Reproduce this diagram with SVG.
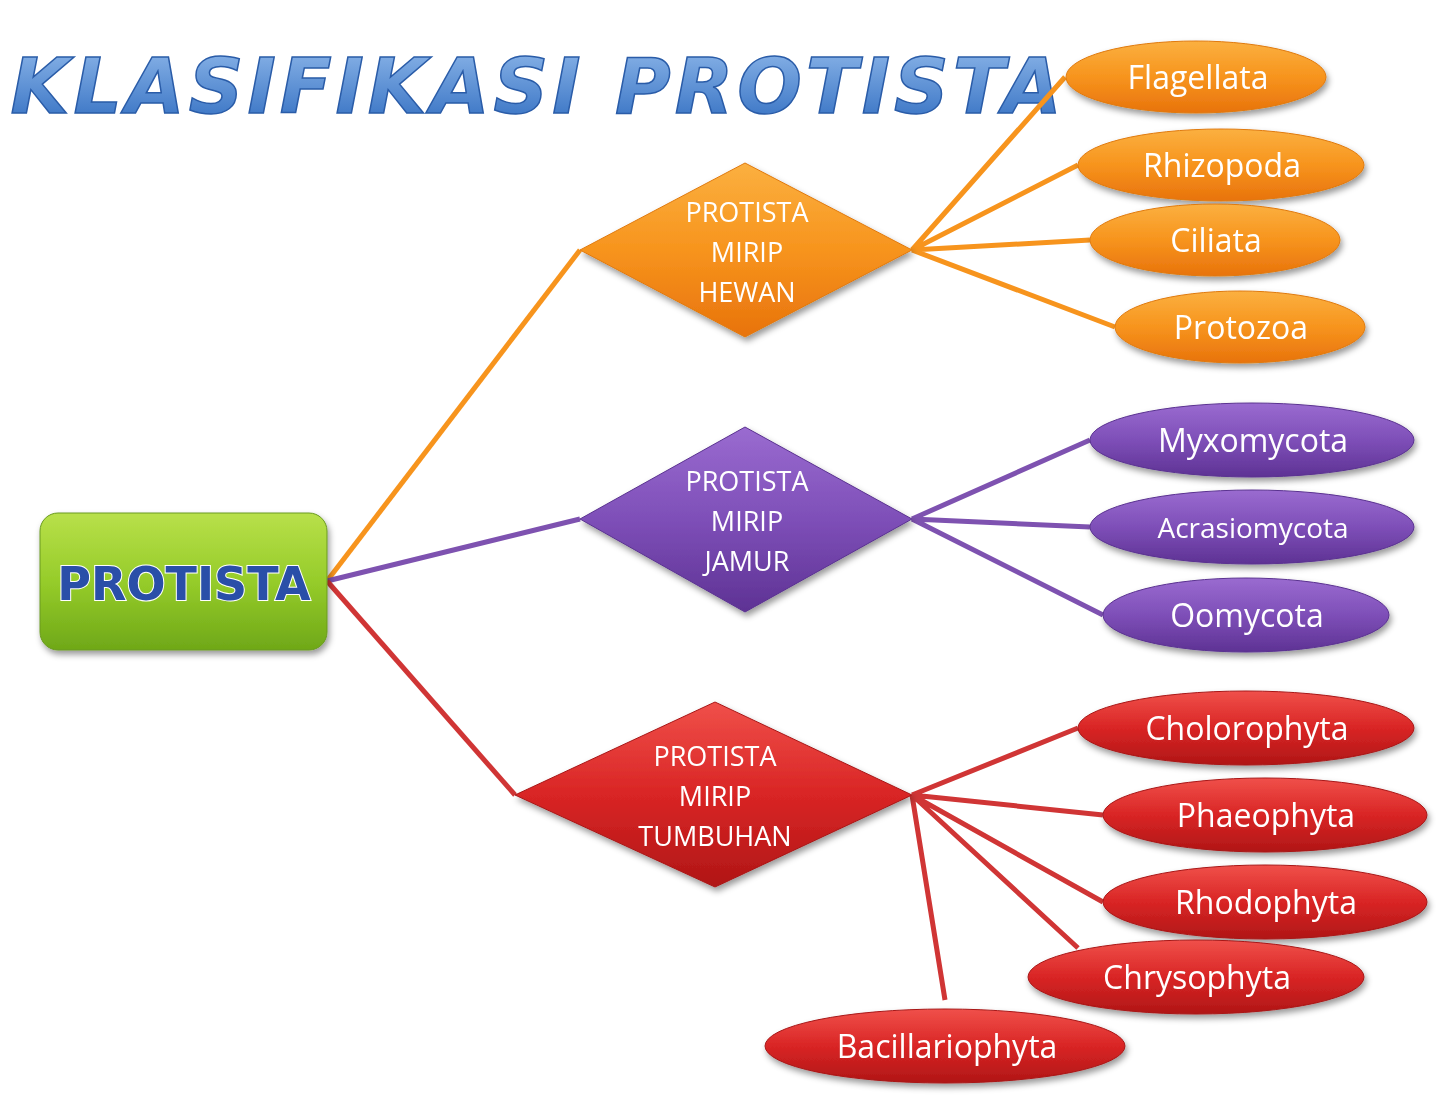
<svg xmlns="http://www.w3.org/2000/svg" width="1437" height="1101" viewBox="0 0 1437 1101">
<defs>
<linearGradient id="go" x1="0" y1="0" x2="0" y2="1"><stop offset="0" stop-color="#fbb040"/><stop offset="0.5" stop-color="#f7941d"/><stop offset="1" stop-color="#e8730c"/></linearGradient>
<linearGradient id="gp" x1="0" y1="0" x2="0" y2="1"><stop offset="0" stop-color="#9a6bd0"/><stop offset="0.5" stop-color="#7e4fb8"/><stop offset="1" stop-color="#5e3294"/></linearGradient>
<linearGradient id="gr" x1="0" y1="0" x2="0" y2="1"><stop offset="0" stop-color="#f0504a"/><stop offset="0.5" stop-color="#d92525"/><stop offset="1" stop-color="#b01616"/></linearGradient>
<linearGradient id="gg" x1="0" y1="0" x2="0" y2="1"><stop offset="0" stop-color="#b8e04a"/><stop offset="0.5" stop-color="#96cc2a"/><stop offset="1" stop-color="#6fa818"/></linearGradient>
<linearGradient id="gt" x1="0" y1="0" x2="0" y2="1"><stop offset="0" stop-color="#8fb8ea"/><stop offset="1" stop-color="#2f6cc0"/></linearGradient>
<filter id="sh" x="-20%" y="-20%" width="140%" height="150%"><feDropShadow dx="2" dy="4" stdDeviation="3" flood-color="#000" flood-opacity="0.4"/></filter>
</defs>
<style>
.t{font-family:"Open Sans","DejaVu Sans",sans-serif;fill:#fff;text-anchor:middle}
.e{font-size:32px}
.d{font-size:27px}
.o{fill:url(#go);stroke:#e07a10;stroke-width:1}
.p{fill:url(#gp);stroke:#5a3290;stroke-width:1}
.r{fill:url(#gr);stroke:#a81818;stroke-width:1}
</style>
<rect width="1437" height="1101" fill="#fff"/>
<text x="538" y="113" font-family="DejaVu Sans" font-weight="bold" font-style="italic" font-size="76" fill="url(#gt)" stroke="#2a5ca8" stroke-width="1.5" text-anchor="middle" letter-spacing="4">KLASIFIKASI PROTISTA</text>
<g id="connectors" fill="none" stroke-width="5">
<g stroke="#f7941d"><path d="M327 581L580 250"/><path d="M912 250L1065 77M912 250L1078 165M912 250L1090 240M912 250L1115 327"/></g>
<g stroke="#7e52b0"><path d="M327 581L580 519"/><path d="M912 519L1090 440M912 519L1090 527M912 519L1103 615"/></g>
<g stroke="#d03535"><path d="M327 581L515 795"/><path d="M912 795L1078 728M912 795L1103 815M912 795L1103 902M912 795L1078 948M912 795L945 1000"/></g>
</g>
<g id="root" filter="url(#sh)"><rect x="40" y="513" width="287" height="137" rx="18" fill="url(#gg)" stroke="#6a9a20"/>
<text x="184" y="600" font-family="DejaVu Sans" font-weight="bold" font-size="46" fill="#2a4fa8" stroke="#fff" stroke-width="2" paint-order="stroke" text-anchor="middle">PROTISTA</text></g>
<g id="hewan" filter="url(#sh)"><polygon class="o" points="580,250 745,163 912,250 745,337"/><text class="t d" x="747" y="222">PROTISTA</text><text class="t d" x="747" y="262">MIRIP</text><text class="t d" x="747" y="302">HEWAN</text></g>
<g id="jamur" filter="url(#sh)"><polygon class="p" points="580,519 745,427 912,519 745,612"/><text class="t d" x="747" y="491">PROTISTA</text><text class="t d" x="747" y="531">MIRIP</text><text class="t d" x="747" y="571">JAMUR</text></g>
<g id="tumbuhan" filter="url(#sh)"><polygon class="r" points="515,795 715,702 912,795 715,887"/><text class="t d" x="715" y="766">PROTISTA</text><text class="t d" x="715" y="806">MIRIP</text><text class="t d" x="715" y="846">TUMBUHAN</text></g>
<g id="flagellata" filter="url(#sh)"><ellipse class="o" cx="1196" cy="77" rx="130" ry="36"/><text class="t e" x="1198" y="89">Flagellata</text></g>
<g id="rhizopoda" filter="url(#sh)"><ellipse class="o" cx="1221" cy="165" rx="143" ry="36"/><text class="t e" x="1222" y="177">Rhizopoda</text></g>
<g id="ciliata" filter="url(#sh)"><ellipse class="o" cx="1215" cy="240" rx="125" ry="36"/><text class="t e" x="1216" y="252">Ciliata</text></g>
<g id="protozoa" filter="url(#sh)"><ellipse class="o" cx="1240" cy="327" rx="125" ry="36"/><text class="t e" x="1241" y="339">Protozoa</text></g>
<g id="myxomycota" filter="url(#sh)"><ellipse class="p" cx="1252" cy="440" rx="162" ry="37"/><text class="t e" x="1253" y="452">Myxomycota</text></g>
<g id="acrasiomycota" filter="url(#sh)"><ellipse class="p" cx="1252" cy="527" rx="162" ry="37"/><text class="t" font-size="28" x="1253" y="538">Acrasiomycota</text></g>
<g id="oomycota" filter="url(#sh)"><ellipse class="p" cx="1246" cy="615" rx="143" ry="37"/><text class="t e" x="1247" y="627">Oomycota</text></g>
<g id="cholorophyta" filter="url(#sh)"><ellipse class="r" cx="1246" cy="728" rx="168" ry="37"/><text class="t e" x="1247" y="740">Cholorophyta</text></g>
<g id="phaeophyta" filter="url(#sh)"><ellipse class="r" cx="1265" cy="815" rx="162" ry="37"/><text class="t e" x="1266" y="827">Phaeophyta</text></g>
<g id="rhodophyta" filter="url(#sh)"><ellipse class="r" cx="1265" cy="902" rx="162" ry="37"/><text class="t e" x="1266" y="914">Rhodophyta</text></g>
<g id="chrysophyta" filter="url(#sh)"><ellipse class="r" cx="1196" cy="977" rx="168" ry="37"/><text class="t e" x="1197" y="989">Chrysophyta</text></g>
<g id="bacillariophyta" filter="url(#sh)"><ellipse class="r" cx="945" cy="1046" rx="180" ry="37"/><text class="t e" x="947" y="1058">Bacillariophyta</text></g>
</svg>
